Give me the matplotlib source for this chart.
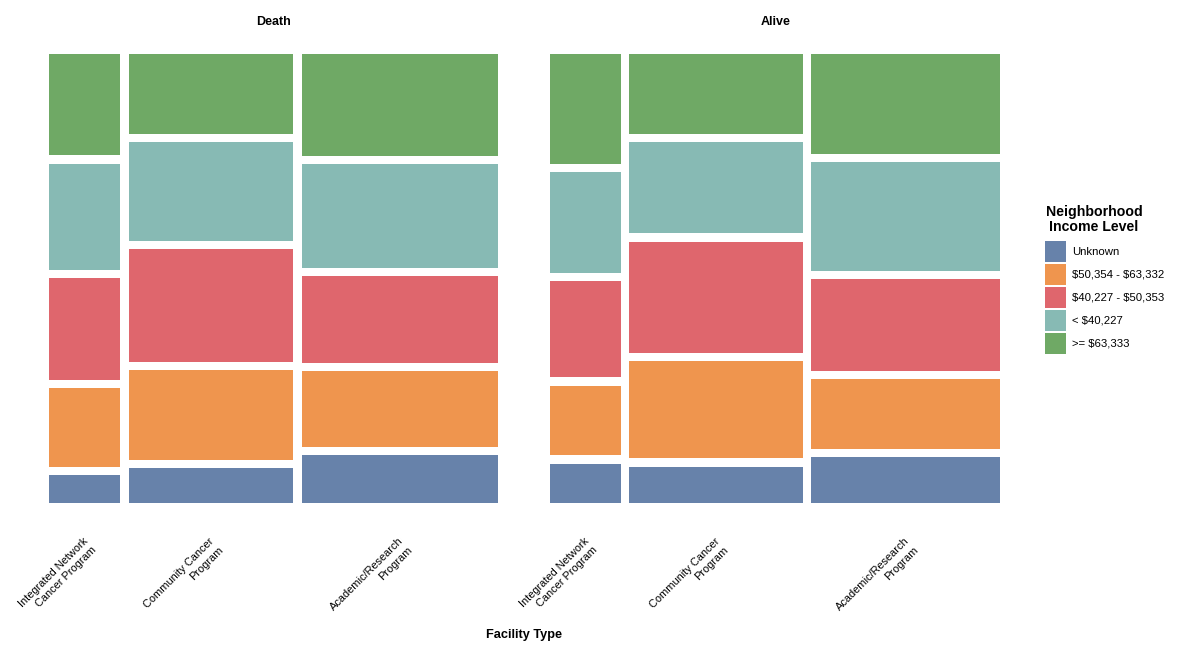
import numpy as np
import matplotlib
matplotlib.use('Agg')
import matplotlib.pyplot as plt
from matplotlib.patches import Rectangle, Patch

plt.rcParams['font.family'] = ['Liberation Sans', 'DejaVu Sans']
plt.rcParams['text.parse_math'] = False

# data (percent)
panels = ['Death', 'Alive']
facilities = ['Integrated Network\nCancer Program', 'Community Cancer\nProgram', 'Academic/Research\nProgram']
income_levels = ['Unknown', '$50,354 - $63,332', '$40,227 - $50,353', '< $40,227', '>= $63,333']
income_colors = ['#6782AA', '#EF954E', '#DF666D', '#87BAB4', '#6FA965']

# share of each facility type inside a panel
facility_share = {
    'Death': [16.5, 38.0, 45.5],
    'Alive': [16.3, 40.1, 43.6],
}
# share of each income level inside a facility type (bottom -> top)
income_share = {
    'Death': [[6.7, 19.0, 24.4, 25.5, 24.4],
              [8.5, 21.5, 27.0, 23.8, 19.2],
              [11.5, 18.3, 20.7, 25.0, 24.5]],
    'Alive': [[9.5, 16.7, 23.1, 24.2, 26.5],
              [8.8, 23.4, 26.6, 22.0, 19.2],
              [11.1, 16.7, 22.0, 26.1, 24.1]],
}

gap_x = 0.0193
gap_y = 0.0187

fig = plt.figure(figsize=(12, 6.5), dpi=100)
ax_lefts = [0.0406, 0.4586]

for p, panel in enumerate(panels):
    ax = fig.add_axes([ax_lefts[p], 0.2257, 0.3747, 0.6917])
    ax.set_xlim(0, 1)
    ax.set_ylim(0, 1)
    ax.axis('off')

    widths = np.array(facility_share[panel]) / sum(facility_share[panel]) * (1 - gap_x * (len(facilities) - 1))
    x0 = 0
    for i, fac in enumerate(facilities):
        shares = np.array(income_share[panel][i])
        heights = shares / shares.sum() * (1 - gap_y * (len(income_levels) - 1))
        y0 = 0
        for j in range(len(income_levels)):
            ax.add_patch(Rectangle((x0, y0), widths[i], heights[j],
                                   facecolor=income_colors[j], linewidth=0))
            y0 += heights[j] + gap_y
        ax.text(x0 + widths[i] / 2 - 0.004, -0.0725, fac, rotation=45, rotation_mode='anchor',
                ha='right', va='top', multialignment='right', fontsize=7.9,
                linespacing=1.3, transform=ax.transData, clip_on=False)
        x0 += widths[i] + gap_x

    ax.set_title(panel, fontsize=9, fontweight='bold', pad=21)

fig.text(0.437, 0.023, 'Facility Type', ha='center', va='center', fontsize=9.2, fontweight='bold')

# legend
fig.text(0.9117, 0.662, 'Neighborhood\nIncome Level', ha='center', va='center',
         multialignment='center', fontsize=10.2, fontweight='bold', linespacing=1.05)
handles = [Patch(facecolor=c, linewidth=0) for c in income_colors]
leg = fig.legend(handles, income_levels, loc='upper left', bbox_to_anchor=(0.8708, 0.6296),
                 frameon=False, fontsize=8.2, handlelength=1.85, handleheight=2.46,
                 labelspacing=0.176, handletextpad=0.55, borderpad=0, borderaxespad=0)

fig.savefig('out.png', dpi=100, facecolor='white')
